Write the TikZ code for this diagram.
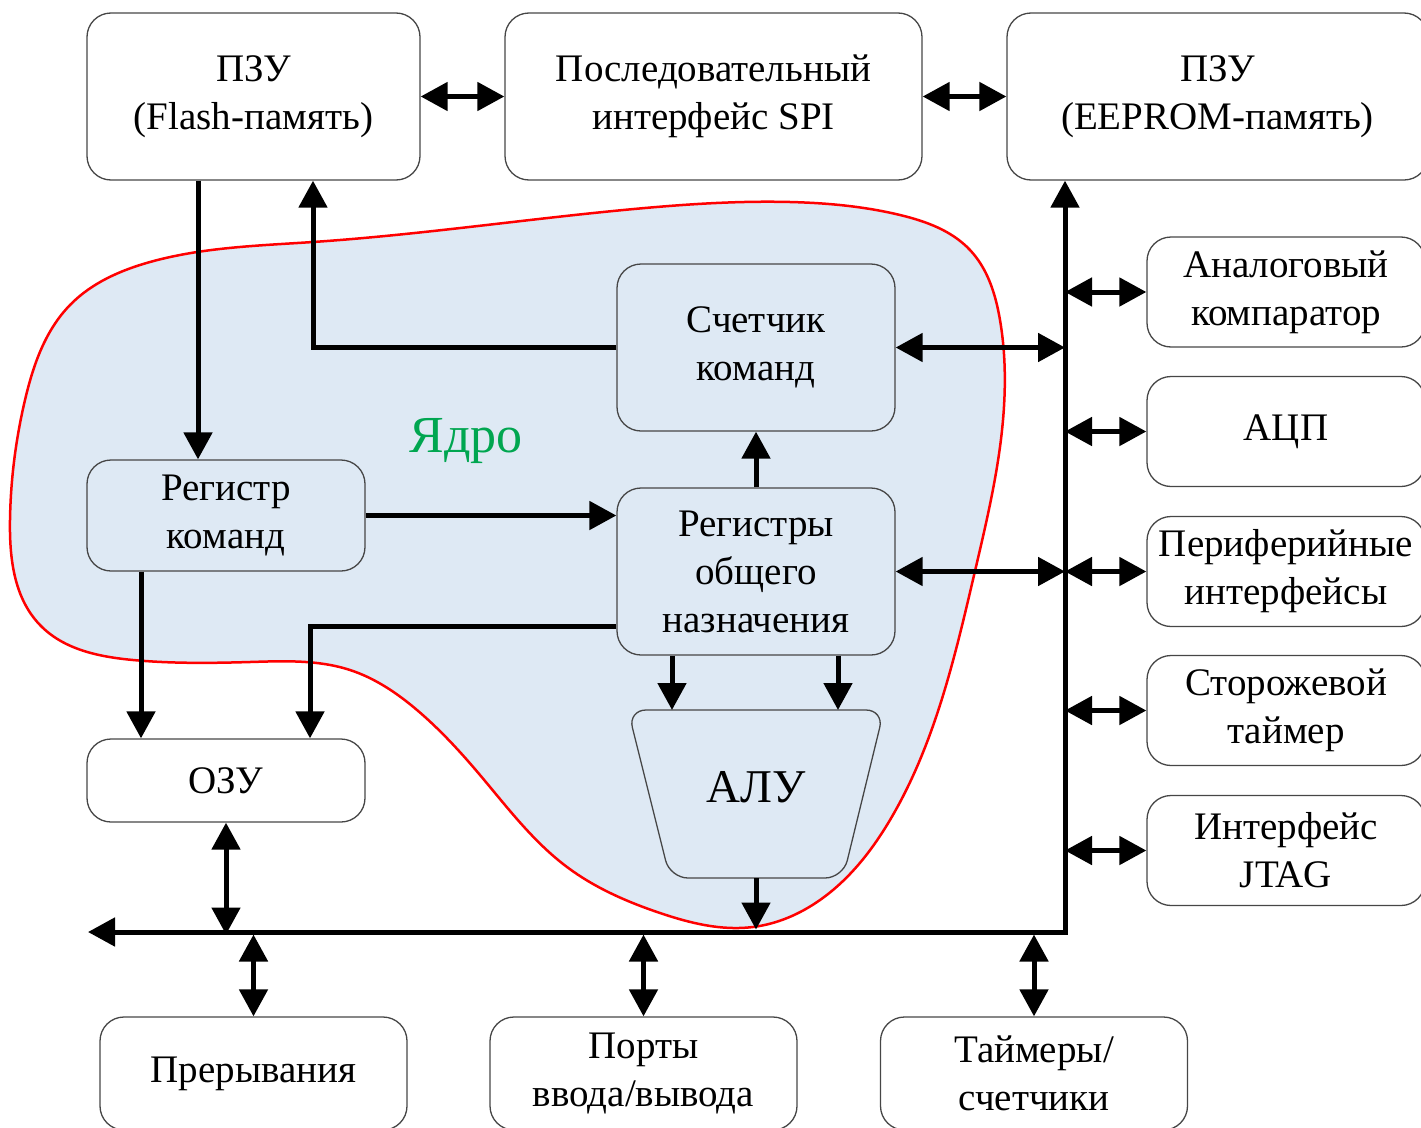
\documentclass[tikz,border=0pt]{standalone}
\usepackage{fontspec}
\setmainfont{Liberation Serif}
\usetikzlibrary{arrows.meta,calc,hobby}
\definecolor{blobfill}{RGB}{222,233,244}
\definecolor{boxgray}{RGB}{70,70,70}
\definecolor{coregreen}{RGB}{0,166,80}
\newcommand\fsbox{\fontsize{39}{48}\selectfont}
\begin{document}
\begin{tikzpicture}[x=1pt,y=-1pt,
  box/.style={draw=boxgray, line width=1.3pt, rounded corners=24pt, align=center, inner sep=0pt, font=\fsbox},
  arr/.style={line width=5pt, -{Triangle[length=27pt,width=28pt]}},
  dbl/.style={line width=5pt, {Triangle[length=27pt,width=28pt]}-{Triangle[length=27pt,width=28pt]}},
  blob/.style={fill=blobfill, draw=red, line width=2.5pt}]
\useasboundingbox (0,0) rectangle (1421,1127);
% core region
\draw[blob] plot[closed hobby] coordinates {
 (313,242) (645,208) (790,202) (900,215) (970,250) (1000,320) (1003,420)
 (975,571) (940,705) (890,820) (820,900) (753,927) (660,913) (567,867)
 (480,775) (417,710) (350,670) (250,662) (133,660) (40,625) (10,520)
 (25,400) (70,305) (150,262)};
% top row
\node[box, minimum width=333pt, minimum height=167pt] (flash) at (253.5,96.5) {ПЗУ\\(Flash-память)};
\node[box, minimum width=417pt, minimum height=167pt] (spi) at (713.5,96.5) {Последовательный\\интерфейс SPI};
\node[box, minimum width=421pt, minimum height=167pt] (eeprom) at (1217.5,96.5) {ПЗУ\\(EEPROM-память)};
% right column
\node[box, minimum width=278pt, minimum height=110pt] (comp) at (1286,292) {Аналоговый\\компаратор};
\node[box, minimum width=278pt, minimum height=110pt] (adc) at (1286,431.5) {АЦП};
\node[box, minimum width=278pt, minimum height=110pt] (periph) at (1286,571.5) {Периферийные\\интерфейсы};
\node[box, minimum width=278pt, minimum height=110pt] (wdt) at (1286,710.5) {Сторожевой\\таймер};
\node[box, minimum width=278pt, minimum height=110pt] (jtag) at (1286,850.5) {Интерфейс\\JTAG};
% core blocks
\node[box, minimum width=278pt, minimum height=167pt] (pc) at (756,347.5) {Счетчик\\команд};
\node[box, minimum width=278pt, minimum height=167pt] (regs) at (756,571.5) {Регистры\\общего\\назначения};
\node[box, minimum width=278pt, minimum height=111pt] (ir) at (226,515.5) {Регистр\\команд};
\node[box, minimum width=278pt, minimum height=83pt] (ozu) at (226,780.5) {ОЗУ};
\draw[draw=boxgray, line width=1.3pt, rounded corners=18pt] (628,710) -- (884,710) -- (843,878) -- (670,878) -- cycle;
\node[font=\fontsize{47}{56}\selectfont] (alu) at (756,787) {АЛУ};
\coordinate (alutop) at (756,710);
\coordinate (alubot) at (756,878);
\node[text=coregreen, font=\fontsize{52}{60}\selectfont] (core) at (466,441) {Ядро};
% bottom row
\node[box, minimum width=307pt, minimum height=113pt] (irq) at (253.5,1073.5) {Прерывания};
\node[box, minimum width=307pt, minimum height=113pt] (ports) at (643.5,1073.5) {Порты\\ввода/вывода};
\node[box, minimum width=307pt, minimum height=113pt] (timers) at (1034,1073.5) {Таймеры/\\счетчики};
% bus
\coordinate (busC) at (1065,932);
\coordinate (busL) at (88,932);
\coordinate (x198) at (198,0);
\coordinate (x313) at (313,0);
\coordinate (x310) at (310,0);
\coordinate (x141) at (141,0);
\draw[dbl] (eeprom.south -| busC) -- (busC) -- (busL);
% top arrows
\draw[dbl] (flash.east) -- (spi.west);
\draw[dbl] (spi.east) -- (eeprom.west);
% right arrows
\foreach \n in {comp,adc,periph,wdt,jtag}{\draw[dbl] (\n.west -| busC) -- (\n.west);}
% core connectors
\draw[arr] (flash.south -| x198) -- (ir.north -| x198);
\draw[arr] (pc.west) -| (flash.south -| x313);
\draw[dbl] (pc.east) -- (pc.east -| busC);
\draw[arr] (regs.north) -- (pc.south);
\draw[arr] (ir.east) -- (ir.east -| regs.west);
\draw[dbl] (regs.east) -- (regs.east -| busC);
\draw[arr] (ir.south -| x141) -- (ozu.north -| x141);
\draw[arr] ([yshift=-54.5pt]regs.west) -| (ozu.north -| x310);
\draw[arr] ([xshift=-84pt]regs.south) -- ([xshift=-84pt]regs.south |- alutop);
\draw[arr] ([xshift=82pt]regs.south) -- ([xshift=82pt]regs.south |- alutop);
\draw[arr] (alubot) -- ([yshift=2.5pt]alubot |- busC);
% bottom connectors
\draw[dbl] ([yshift=-2.5pt]ozu.south |- busC) -- (ozu.south);
\draw[dbl] ([yshift=-2.5pt]irq.north |- busC) -- (irq.north);
\draw[dbl] ([yshift=-2.5pt]ports.north |- busC) -- (ports.north);
\draw[dbl] ([yshift=-2.5pt]timers.north |- busC) -- (timers.north);
\end{tikzpicture}
\end{document}
